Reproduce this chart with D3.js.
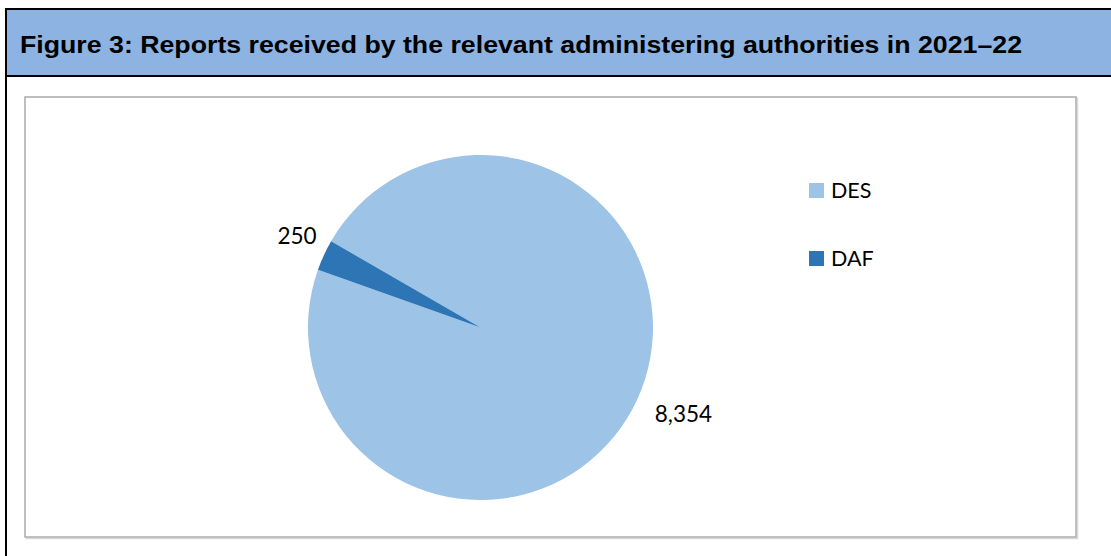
<!DOCTYPE html>
<html>
<head>
<meta charset="utf-8">
<script src="https://cdn.jsdelivr.net/npm/d3@7"></script>
<style>
  html, body { margin: 0; padding: 0; background: #ffffff; }
  svg { display: block; }
</style>
</head>
<body>
<svg id="chart" width="1111" height="556"></svg>
<script>
// Report counts by administering authority, 2021–22
const categories = ["DES", "DAF"];
const reports = [8354, 250];
const colors = ["#9DC3E6", "#2E75B6"];
const titleText = "Figure 3: Reports received by the relevant administering authorities in 2021–22";

const W = 1111, H = 556;
const svg = d3.select("#chart");

// Figure frame: header band with black rules, left rule running down the page
svg.append("rect").attr("x", 7).attr("y", 10).attr("width", W - 7).attr("height", 65)
  .attr("fill", "#8DB3E2");
svg.append("rect").attr("x", 5).attr("y", 8).attr("width", W - 5).attr("height", 2).attr("fill", "#000");
svg.append("rect").attr("x", 5).attr("y", 75).attr("width", W - 5).attr("height", 2).attr("fill", "#000");
svg.append("rect").attr("x", 5).attr("y", 8).attr("width", 2).attr("height", H - 8).attr("fill", "#000");

svg.append("text")
  .attr("x", 20).attr("y", 53)
  .attr("font-family", "Liberation Sans, Arial, sans-serif")
  .attr("font-weight", "bold")
  .attr("font-size", 24)
  .attr("textLength", 1002)
  .attr("lengthAdjust", "spacingAndGlyphs")
  .attr("fill", "#000")
  .text(titleText);

// Chart area box with a soft shadow
const box = { x: 25, y: 97, w: 1051, h: 440 };
svg.append("rect")
  .attr("x", box.x + 1.5).attr("y", box.y + 1.5).attr("width", box.w).attr("height", box.h)
  .attr("fill", "none").attr("stroke", "#d9d9d9").attr("stroke-width", 1.5);
svg.append("rect")
  .attr("x", box.x).attr("y", box.y).attr("width", box.w).attr("height", box.h)
  .attr("fill", "#fff").attr("stroke", "#ababab").attr("stroke-width", 1.5);

// Pie
const cx = 480.5, cy = 327.5, r = 172.5;
const start = -Math.PI / 3;
const pie = d3.pie().sort(null).startAngle(start).endAngle(start + 2 * Math.PI);
const arcs = pie(reports);
const arc = d3.arc().innerRadius(0).outerRadius(r);
const color = d3.scaleOrdinal().domain(categories).range(colors);

const g = svg.append("g").attr("transform", `translate(${cx},${cy})`);
g.selectAll("path.slice")
  .data(arcs)
  .join("path")
  .attr("class", "slice")
  .attr("d", arc)
  .attr("fill", (d, i) => color(categories[i]));

// Value labels just outside each slice, positioned along the slice's mid-angle
const fmt = d3.format(",");
const labelFont = 22.5;
const labels = g.selectAll("text.val")
  .data(arcs)
  .join("text")
  .attr("class", "val")
  .attr("font-family", "Lato, 'Open Sans', sans-serif")
  .attr("font-size", labelFont)
  .attr("fill", "#000")
  .attr("text-anchor", "middle")
  .text(d => fmt(d.value));

labels.each(function(d) {
  const bb = this.getBBox();
  const a = (d.startAngle + d.endAngle) / 2;
  const ux = Math.sin(a), uy = -Math.cos(a);
  const capH = labelFont * 0.72;
  const gap = 15;
  const dist = r + gap + Math.abs(ux) * bb.width / 2 + Math.abs(uy) * capH / 2;
  d3.select(this)
    .attr("x", ux * dist + 6)
    .attr("y", uy * dist + capH / 2 - 4);
});

// Legend
const legend = svg.append("g").attr("transform", "translate(809,183)");
const item = legend.selectAll("g.item")
  .data(categories)
  .join("g")
  .attr("class", "item")
  .attr("transform", (d, i) => `translate(0,${i * 68})`);
item.append("rect")
  .attr("width", 15).attr("height", 15)
  .attr("fill", d => color(d));
item.append("text")
  .attr("x", 22).attr("y", 15)
  .attr("font-family", "Lato, 'Open Sans', sans-serif")
  .attr("font-size", 21.5)
  .attr("fill", "#000")
  .text(d => d);
</script>
</body>
</html>
